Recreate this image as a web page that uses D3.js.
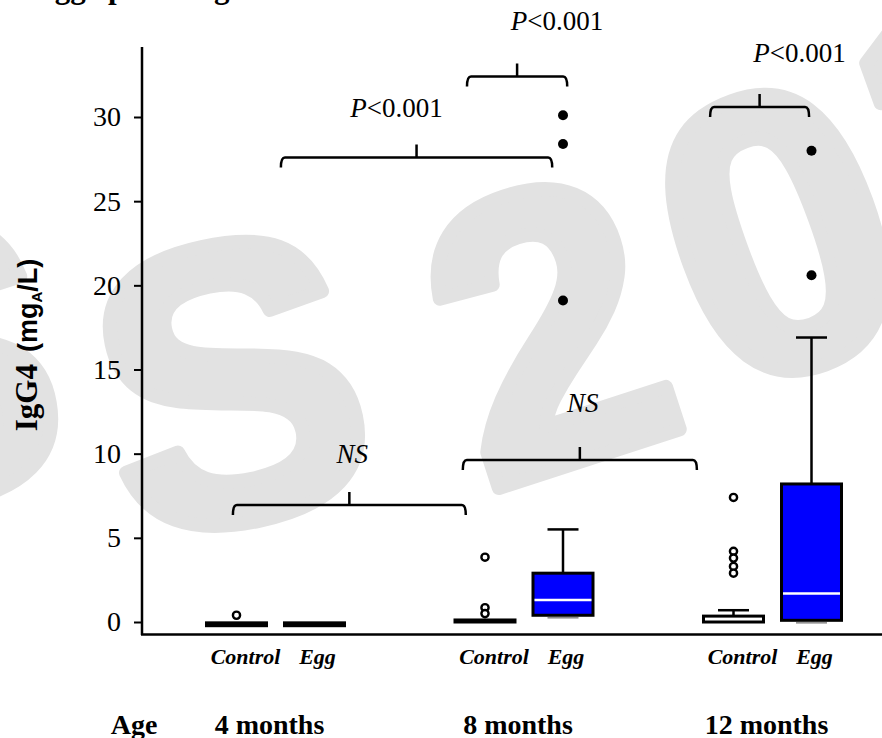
<!DOCTYPE html>
<html>
<head>
<meta charset="utf-8">
<script src="https://cdn.jsdelivr.net/npm/d3@7"></script>
<style>
  body { margin: 0; background: #fff; }
  svg { display: block; }
</style>
</head>
<body>
<svg width="882" height="738"></svg>
<script>
// data (mg_A/L)
const ages = ['4 months', '8 months', '12 months'];
const groups = ['Control', 'Egg'];
const boxAge   = ['4 months', '4 months', '8 months', '8 months', '12 months', '12 months'];
const boxGroup = ['Control', 'Egg', 'Control', 'Egg', 'Control', 'Egg'];
const whiskerLow  = [-0.22, -0.22, 0, 0.25, 0, -0.05];
const q1          = [-0.22, -0.22, 0, 0.4, 0, 0.1];
const median      = [-0.1, -0.1, 0, 1.3, 0, 1.7];
const q3          = [-0.05, -0.05, 0.12, 2.9, 0.35, 8.2];
const whiskerHigh = [-0.05, -0.05, 0.12, 5.5, 0.7, 16.9];
const outliersOpen    = [[0.4], [], [3.85, 0.85, 0.5], [], [7.4, 4.2, 3.8, 3.3, 2.9], []];
const outliersExtreme = [[], [], [], [30.1, 28.4, 19.1], [], [28.0, 20.6]];
const yTicks = [0, 5, 10, 15, 20, 25, 30];

// comparison brackets: from box, to box, height (data units), label
const bracketFrom  = [0, 2, 1, 2, 4];
const bracketTo    = [2, 4, 3, 3, 5];
const bracketY     = [6.95, 9.62, 27.6, 32.4, 30.6];
const bracketLabel = ['NS', 'NS', 'P<0.001', 'P<0.001', 'P<0.001'];

const boxes = boxAge.map((a, i) => ({
  age: a, group: boxGroup[i], lo: whiskerLow[i], q1: q1[i], med: median[i],
  q3: q3[i], hi: whiskerHigh[i], open: outliersOpen[i], ext: outliersExtreme[i]
}));

const render = () => {
  const svg = d3.select('svg');
  const serif = '"Liberation Serif", "Times New Roman", serif';
  const sans = '"Liberation Sans", Arial, sans-serif';

  // watermark (partly outside the picture, as in the original)
  const wm = svg.append('g').attr('fill', '#e2e2e2').attr('stroke', '#e2e2e2')
    .attr('stroke-width', 14).attr('stroke-linejoin', 'round')
    .style('font-family', sans).style('font-weight', 'bold').style('font-size', '395px')
    .attr('text-anchor', 'middle').attr('dominant-baseline', 'central');
  [['S', -75, 365, -10], ['S', 230, 383, -12], ['2', 548, 328, -18], ['0', 778, 232, -20], ['1', 975, 120, -20]]
    .forEach(([c, x, y, r]) => wm.append('text').attr('transform', `translate(${x},${y}) rotate(${r})`).text(c));

  // title (cut off at top of image)
  svg.append('text').attr('x', 34).attr('y', -2)
    .style('font-family', serif).style('font-weight', 'bold').style('font-size', '31px')
    .text('Egg-specific IgG4');

  const y = d3.scaleLinear().domain([0, 30]).range([622, 117]);
  const xAge = d3.scalePoint().domain(ages).range([275.5, 772.5]);
  const xSub = d3.scalePoint().domain(groups).range([-39, 39]);
  const xc = d => xAge(d.age) + xSub(d.group);
  const bw = 60, cw = 31;

  // y axis
  const yAxis = d3.axisLeft(y).tickValues(yTicks).tickSize(8).tickPadding(13);
  const ga = svg.append('g').attr('transform', 'translate(142,0)').call(yAxis);
  ga.select('.domain').remove();
  ga.selectAll('.tick line').attr('stroke', '#000').attr('stroke-width', 2);
  ga.selectAll('.tick text').style('font-family', serif).style('font-size', '28px').attr('fill', '#000');
  svg.append('line').attr('x1', 142).attr('x2', 142).attr('y1', 47).attr('y2', 635)
    .attr('stroke', '#000').attr('stroke-width', 2.5);
  svg.append('line').attr('x1', 141).attr('x2', 882).attr('y1', 634.5).attr('y2', 634.5)
    .attr('stroke', '#000').attr('stroke-width', 2.5);

  // y axis label
  const yl = svg.append('text').attr('transform', 'translate(37,345) rotate(-90)')
    .attr('text-anchor', 'middle').style('font-weight', 'bold');
  yl.append('tspan').style('font-family', serif).style('font-size', '31px').text('IgG4');
  yl.append('tspan').style('font-family', sans).style('font-size', '27px').attr('dx', 12).text('(mg');
  yl.append('tspan').style('font-family', sans).style('font-size', '15px').attr('dy', 5).text('A');
  yl.append('tspan').style('font-family', sans).style('font-size', '27px').attr('dy', -5).text('/L)');

  // boxes
  const g = svg.selectAll('.box').data(boxes).enter().append('g').attr('class', 'box');
  g.filter(d => d.hi > d.q3).append('line')
    .attr('x1', xc).attr('x2', xc).attr('y1', d => y(d.q3)).attr('y2', d => y(d.hi))
    .attr('stroke', '#000').attr('stroke-width', 2.5);
  g.filter(d => d.hi > d.q3).append('line')
    .attr('x1', d => xc(d) - cw / 2).attr('x2', d => xc(d) + cw / 2)
    .attr('y1', d => y(d.hi)).attr('y2', d => y(d.hi))
    .attr('stroke', '#000').attr('stroke-width', 2.5);
  g.filter(d => d.lo < d.q1).append('line')
    .attr('x1', d => xc(d) - cw / 2).attr('x2', d => xc(d) + cw / 2)
    .attr('y1', d => y(d.lo)).attr('y2', d => y(d.lo))
    .attr('stroke', '#888').attr('stroke-width', 1.5);
  g.append('rect')
    .attr('x', d => xc(d) - bw / 2).attr('width', bw)
    .attr('y', d => y(d.q3)).attr('height', d => Math.max(0.5, y(d.q1) - y(d.q3)))
    .attr('fill', d => d.group === 'Egg' ? '#0000ff' : '#fff')
    .attr('stroke', '#000').attr('stroke-width', 3);
  g.filter(d => d.group === 'Egg' && d.q3 - d.q1 > 1).append('line')
    .attr('x1', d => xc(d) - bw / 2 + 1.5).attr('x2', d => xc(d) + bw / 2 - 1.5)
    .attr('y1', d => y(d.med)).attr('y2', d => y(d.med))
    .attr('stroke', '#fff').attr('stroke-width', 2.5);

  g.selectAll('.open').data(d => d.open.map(v => ({ x: xc(d), v }))).enter()
    .append('circle').attr('cx', d => d.x).attr('cy', d => y(d.v)).attr('r', 3.6)
    .attr('fill', '#fff').attr('stroke', '#000').attr('stroke-width', 2.4);
  g.selectAll('.ext').data(d => d.ext.map(v => ({ x: xc(d), v }))).enter()
    .append('circle').attr('cx', d => d.x).attr('cy', d => y(d.v)).attr('r', 5)
    .attr('fill', '#000');

  // group labels
  svg.selectAll('.sub').data(boxes).enter().append('text')
    .attr('x', d => xc(d) + (d.group === 'Control' ? 9 : 3)).attr('y', 664)
    .attr('text-anchor', 'middle')
    .style('font-family', serif).style('font-size', '22px')
    .style('font-weight', 'bold').style('font-style', 'italic')
    .text(d => d.group);

  svg.append('text').attr('x', 134).attr('y', 734).attr('text-anchor', 'middle')
    .style('font-family', serif).style('font-size', '28px').style('font-weight', 'bold')
    .text('Age');
  svg.selectAll('.age').data(ages).enter().append('text')
    .attr('x', d => xAge(d) - 6).attr('y', 734).attr('text-anchor', 'middle')
    .style('font-family', serif).style('font-size', '28px').style('font-weight', 'bold')
    .text(d => d);

  // brackets
  const endOff0 = [-0.06, -0.37, -0.56, -0.3, -0.39];
  const endOff1 = [-0.32, -0.61, -0.18, 0.07, -0.04];
  const labelDx = [3, 3, -20, 40, 40];
  const labelDy = [-42, -48, -40, -47, -45];
  bracketY.forEach((v, i) => {
    const x0 = xc(boxes[bracketFrom[i]]) + endOff0[i] * bw;
    const x1 = xc(boxes[bracketTo[i]]) + endOff1[i] * bw;
    const yy = y(v), xm = (x0 + x1) / 2, h = 10, t = 13, r = 4;
    svg.append('path')
      .attr('d', `M${x0},${yy + h} Q${x0},${yy} ${x0 + r},${yy} L${x1 - r},${yy} Q${x1},${yy} ${x1},${yy + h} M${xm},${yy} L${xm},${yy - t}`)
      .attr('fill', 'none').attr('stroke', '#000').attr('stroke-width', 2.5);
    const lab = svg.append('text').attr('x', xm + labelDx[i]).attr('y', yy + labelDy[i])
      .attr('text-anchor', 'middle').style('font-family', serif).style('font-size', '27px');
    if (bracketLabel[i] === 'NS') {
      lab.style('font-style', 'italic').text('NS');
    } else {
      lab.append('tspan').style('font-style', 'italic').text('P');
      lab.append('tspan').text(bracketLabel[i].slice(1));
    }
  });
};

render();
</script>
</body>
</html>
